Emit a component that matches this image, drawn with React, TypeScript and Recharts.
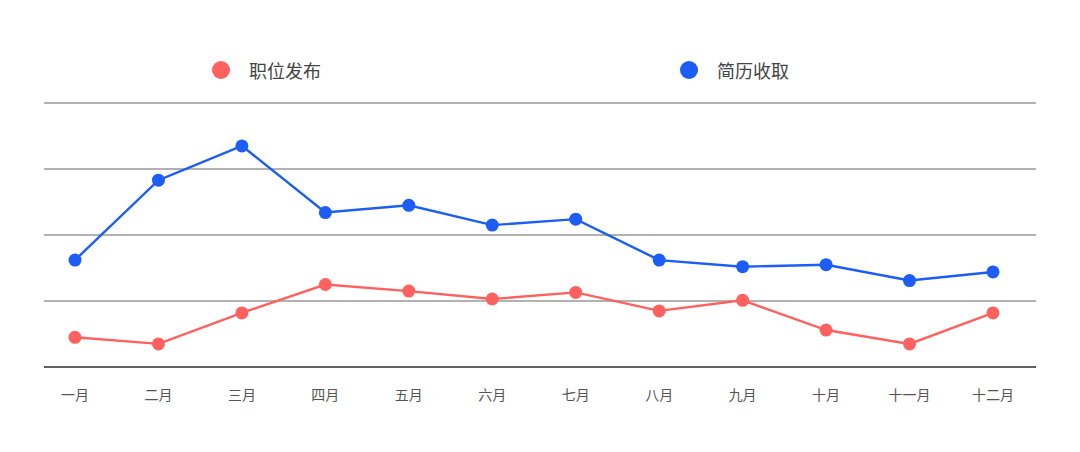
import React from "react";
import { LineChart, Line, XAxis, YAxis, CartesianGrid } from "recharts";

const months = ["一月", "二月", "三月", "四月", "五月", "六月", "七月", "八月", "九月", "十月", "十一月", "十二月"];
const jobPosts = [45, 35, 82, 125, 115, 103, 113, 85, 101, 56, 35, 82];
const resumes = [162, 283, 335, 234, 245, 215, 224, 162, 152, 155, 131, 144];
const yTicks = [0, 100, 200, 300, 400];

const RED = "#ff625e";
const BLUE = "#1b5df5";
const FONT = "'Noto Sans CJK SC', 'Noto Sans', sans-serif";

const legendItems = [
  { name: "职位发布", color: RED, x: 212 },
  { name: "简历收取", color: BLUE, x: 680 },
];

const data = months.map((m, i) => ({ month: m, jobs: jobPosts[i], resumes: resumes[i] }));

export default function App() {
  return (
    <div style={{ position: "absolute", left: 0, top: 0, width: 1080, height: 452, background: "#fff", fontFamily: FONT }}>
      {legendItems.map((it) => (
        <div
          key={it.name}
          style={{ position: "absolute", left: it.x, top: 57, height: 25, display: "flex", alignItems: "center", fontSize: 18, color: "#444" }}
        >
          <span style={{ width: 18, height: 18, borderRadius: 9, background: it.color, display: "inline-block", marginRight: 19 }} />
          <span>{it.name}</span>
        </div>
      ))}
      <LineChart width={1080} height={452} data={data} margin={{ top: 103, right: 44, left: 44, bottom: 55 }}>
        <CartesianGrid vertical={false} stroke="#999" strokeWidth={1.4} />
        <YAxis hide domain={[0, 400]} ticks={yTicks} />
        <XAxis
          dataKey="month"
          padding={{ left: 31, right: 43 }}
          axisLine={{ stroke: "#444", strokeWidth: 1.6 }}
          tickLine={false}
          tickMargin={17}
          tick={{ fill: "#555", fontSize: 14, fontFamily: FONT }}
          interval={0}
        />
        <Line
          dataKey="jobs"
          stroke={RED}
          strokeWidth={2.4}
          dot={{ r: 6.5, fill: RED, stroke: "none" }}
          activeDot={false}
          isAnimationActive={false}
        />
        <Line
          dataKey="resumes"
          stroke={BLUE}
          strokeWidth={2.4}
          dot={{ r: 6.5, fill: BLUE, stroke: "none" }}
          activeDot={false}
          isAnimationActive={false}
        />
      </LineChart>
    </div>
  );
}
